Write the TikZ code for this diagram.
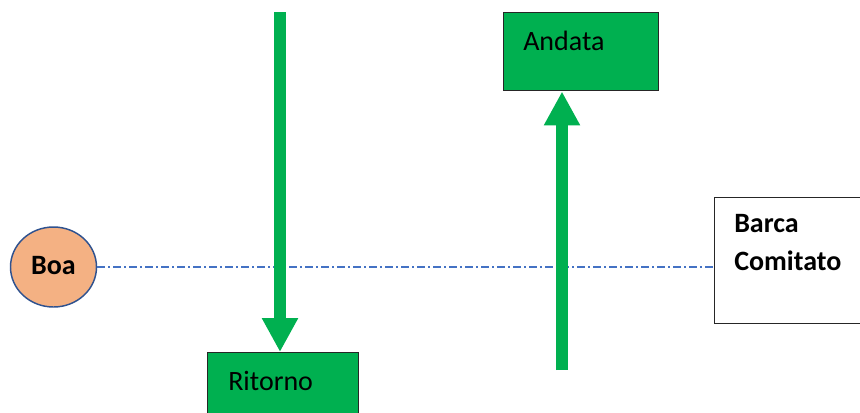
\documentclass[tikz,border=0pt]{standalone}
\usepackage{fontspec}
\setmainfont{Carlito}
\usetikzlibrary{arrows.meta,shapes.geometric}
\definecolor{ggreen}{HTML}{00B050}
\definecolor{boafill}{HTML}{F4B183}
\definecolor{boaline}{HTML}{2F528F}
\definecolor{axisblue}{HTML}{4472C4}
\definecolor{boxline}{HTML}{262626}
\tikzset{
  greenbox/.style={draw=boxline, line width=1.1pt, fill=ggreen, rectangle, anchor=north west, inner sep=0pt},
  whitebox/.style={draw=boxline, line width=1.1pt, fill=white, rectangle, anchor=north west, inner sep=0pt},
  boxtext/.style={anchor=base west, inner sep=0pt, font=\fontsize{21}{25}\selectfont},
  bigarrow/.style={draw=ggreen, line width=9pt, -{Triangle[length=25.5pt, width=25.5pt]}},
  axisline/.style={draw=axisblue, line width=0.8pt, dash pattern=on 6pt off 2.4pt on 1.2pt off 2.4pt},
}
\begin{document}
\begin{tikzpicture}[x=0.75pt, y=-0.75pt]
\useasboundingbox (0,0) rectangle (860,412);
% boxes
\node[greenbox, minimum width=116.25pt, minimum height=58.5pt] (andata) at (503,12) {};
\node[greenbox, minimum width=113.25pt, minimum height=58.5pt] (ritorno) at (207,352) {};
\node[whitebox, minimum width=124.5pt, minimum height=94.5pt] (barca) at (714,197) {};
% ellipse
\node[ellipse, draw=boaline, line width=1.1pt, fill=boafill, minimum width=64.5pt, minimum height=60pt, inner sep=0pt] (boa) at (53.5,267) {};
% texts
\node[boxtext] (tandata) at (523,50) {Andata};
\node[boxtext] (tritorno) at (228,390) {Ritorno};
\node[boxtext, font=\fontsize{21}{25}\selectfont\bfseries] (tbarca) at (734,232) {Barca};
\node[boxtext, font=\fontsize{21}{25}\selectfont\bfseries] (tcomitato) at (734,270) {Comitato};
\node[anchor=base, inner sep=0pt, font=\fontsize{21}{25}\selectfont\bfseries] (tboa) at (53.5,274) {Boa};
% axis line
\draw[axisline] (boa.east) -- (boa.east -| barca.west);
% arrows
\coordinate (dtop) at (280,12);
\coordinate (ubot) at (562,370);
\draw[bigarrow] (dtop) -- (dtop |- ritorno.north);
\draw[bigarrow] (ubot) -- (ubot |- andata.south);
\end{tikzpicture}
\end{document}
